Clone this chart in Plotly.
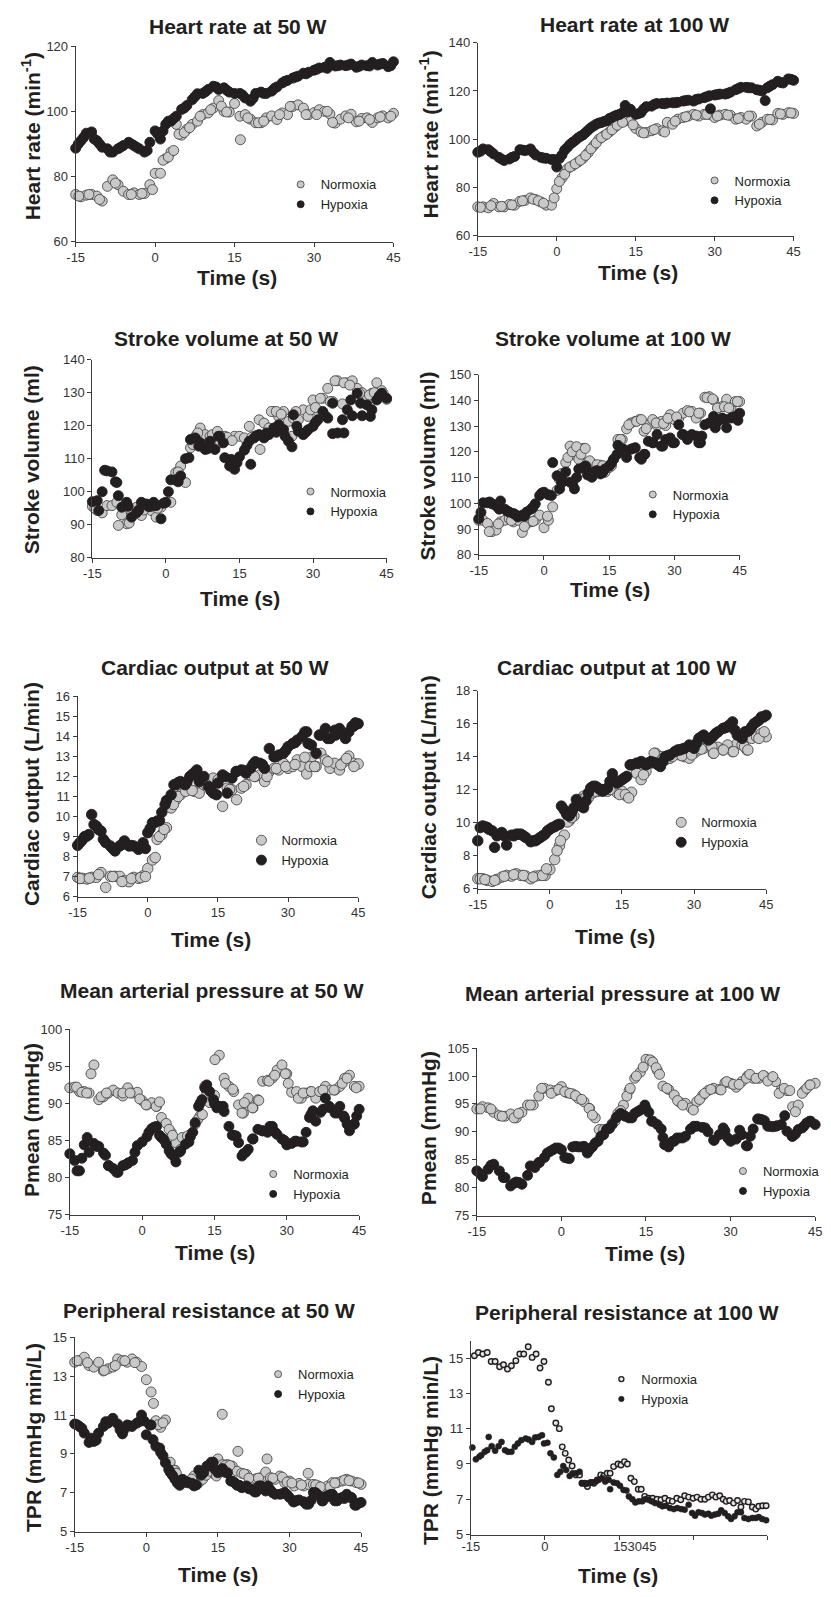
import plotly.graph_objects as go

W, H = 831, 1597
time_s = list(range(-15, 46))

# ---------------- Heart rate 50 W ----------------
hr50_norm = [74.5, 73.8, 74.3, 74.5, 74.0, 72.5, 77.0, 79.0, 77.5, 75.5,
             74.5, 75.0, 74.5, 74.8, 77.5, 81.0, 81.0, 85.5, 87.5, 96.0,
             92.7, 94.5, 96.0, 97.0, 99.0, 99.5, 101.0, 103.3, 100.0, 99.8,
             102.4, 98.5, 99.0, 97.6, 96.5, 96.5, 98.0, 98.6, 97.5, 99.5,
             99.0, 101.5, 102.0, 101.0, 99.0, 99.6, 100.5, 100.0, 99.2, 96.4,
             97.6, 98.6, 99.1, 96.8, 97.8, 98.0, 96.6, 98.0, 98.6, 98.0, 99.4]
hr50_norm_ext_t = [-14.4, -12.5, -10.5, -7.5, -4.5, -2.5, -0.5, 1.5, 2.5, 3.5,
                   4.5, 5.5, 6.5, 8.5, 10.5, 12.5, 13.5, 16.1, 17.5, 19.5,
                   20.5, 23.5, 25.5, 28.5, 30.5, 32.5, 33.5, 36.5, 38.5, 40.5, 42.5, 44.5]
hr50_norm_ext = [74, 74.5, 73, 78, 74.5, 74.8, 76, 85, 86, 88,
                 93, 93.5, 95, 98.5, 100.5, 101.6, 99.8, 91.3, 98, 96.5,
                 97, 99, 101.5, 99, 99, 100, 96.6, 98, 97, 97.5, 98.3, 98.5]
hr50_hyp = [88.7, 91.0, 93.3, 93.7, 91.0, 89.0, 88.5, 87.5, 88.5, 89.5,
            90.5, 89.5, 88.5, 87.5, 90.5, 94.0, 91.5, 96.0, 97.0, 98.5,
            100.6, 101.8, 103.6, 105.4, 105.5, 106.7, 107.7, 106.7, 107.2, 105.9,
            105.5, 105.5, 104.1, 103.1, 105.5, 105.9, 105.5, 106.2, 107.5, 108.7,
            109.5, 110.2, 110.8, 111.7, 112.0, 112.6, 113.3, 113.5, 115.0, 113.9,
            114.2, 114.0, 114.5, 113.5, 114.2, 114.0, 115.0, 114.2, 114.7, 113.7, 115.2]
hr50_hyp_ext_t = [-14.5, -13.5, -11.5, -10.5, -8.5, -6.5, -4.5, -3.5, -1.5, 0.5,
                  1.5, 2.5, 3.5, 5.5, 7.5, 9.5, 11.5, 13.5, 16.5, 18.5,
                  20.5, 22.5, 24.5, 26.5, 28.5, 30.5, 32.5, 34.5, 36.5, 38.5, 40.5, 42.5, 44.5]
hr50_hyp_ext = [90, 92, 91.5, 90, 87.5, 89, 90, 89, 88, 93,
                94, 97, 97.8, 101, 104.5, 106, 107.5, 106.5, 105, 104,
                105.5, 107, 109.2, 110.5, 111.5, 112.9, 113.2, 114, 114.2, 113.8, 113.9, 114.5, 114]

# ---------------- Heart rate 100 W ----------------
hr100_norm = [72.0, 72.0, 71.6, 73.4, 72.0, 72.0, 73.0, 72.7, 74.3, 74.7,
              75.7, 75.0, 74.0, 72.7, 72.7, 79.5, 84.0, 87.7, 89.0, 90.5,
              92.1, 94.5, 97.3, 100.0, 101.5, 103.0, 105.0, 106.9, 107.6, 107.6,
              104.5, 103.0, 102.8, 103.5, 104.4, 103.5, 107.0, 106.2, 108.3, 109.0,
              109.6, 110.3, 109.6, 110.3, 110.3, 109.0, 110.0, 110.3, 109.9, 108.3,
              109.0, 108.3, 109.6, 105.5, 107.0, 108.3, 108.0, 110.7, 110.3, 111.0, 110.7]
hr100_norm_ext_t = [-14.5, -12.5, -10.5, -8.5, -6.5, -4.5, -3.5, -2.5, -0.5, 0.5,
                    1.5, 2.5, 3.5, 4.5, 5.5, 6.5, 7.5, 8.5, 9.5, 10.5,
                    11.5, 12.5, 14.5, 16.5, 18.5, 20.5, 22.5, 24.5, 26.5, 28.5,
                    30.5, 32.5, 34.5, 36.5, 38.5, 40.5, 42.5, 44.5]
hr100_norm_ext = [71.8, 72.5, 72.2, 72.8, 74.5, 75.2, 74.5, 73.5, 75.7, 82.5,
                  85.5, 88.5, 89.8, 91.3, 93.3, 96, 98.5, 100.7, 102.1, 103.9,
                  105.8, 107, 106, 102.6, 104, 103, 107.5, 109.3, 110, 110.3,
                  109.6, 110, 108.6, 109.6, 106.2, 108.2, 110.5, 110.9]
hr100_hyp = [94.6, 96.0, 95.7, 93.9, 92.5, 91.2, 91.8, 92.9, 95.7, 95.3,
             96.0, 93.5, 92.5, 92.1, 91.6, 88.5, 93.5, 96.6, 98.7, 100.5,
             101.8, 103.8, 105.5, 106.7, 107.4, 108.6, 109.6, 110.3, 114.0, 112.4,
             110.3, 111.0, 113.5, 113.7, 114.8, 114.8, 115.0, 115.1, 115.3, 115.8,
             116.2, 115.8, 116.7, 117.2, 118.0, 118.3, 118.7, 118.7, 119.5, 120.5,
             121.5, 121.5, 121.3, 120.5, 120.0, 121.3, 122.6, 124.0, 123.3, 125.0, 124.4]
hr100_hyp_ext_t = [-14.5, -12.5, -10.5, -8.5, -6.5, -4.5, -2.5, -0.5, 0.5, 1.5,
                   2.5, 3.5, 4.5, 5.5, 6.5, 7.5, 8.5, 9.5, 10.5, 11.5,
                   12.5, 13.5, 15.5, 16.5, 18.5, 20.5, 22.5, 24.5, 26.5, 28.5,
                   29.2, 30.5, 32.5, 34.5, 36.5, 38.5, 39.6, 40.5, 42.5, 44.5]
hr100_hyp_ext = [95, 94.8, 91.8, 92.5, 95.5, 94.5, 92.2, 91.6, 92, 95.5,
                 97.8, 99.5, 101.2, 102.8, 104.8, 106.2, 106.9, 107.6, 109, 110,
                 111, 111.3, 110.6, 112.5, 114.4, 114.7, 115.1, 116, 116.5, 117.6,
                 112.6, 118.5, 119, 121, 121.3, 120.3, 116.0, 122, 123.5, 124.8]

# ---------------- Stroke volume 50 W ----------------
sv50_norm = [95.6, 94.3, 93.6, 95.8, 95.8, 96.8, 93.0, 90.3, 94.3, 95.3,
             92.8, 94.8, 94.3, 92.3, 95.3, 96.8, 96.8, 105.8, 107.8, 102.8,
             113.3, 116.8, 119.3, 117.3, 116.8, 117.3, 114.8, 116.8, 115.8, 116.8,
             116.8, 116.3, 119.8, 116.8, 121.8, 120.8, 119.3, 124.3, 122.8, 124.3,
             121.3, 122.3, 121.8, 124.8, 122.8, 127.8, 124.3, 128.3, 131.3, 127.3,
             133.6, 126.6, 133.0, 133.6, 131.3, 130.0, 128.3, 129.8, 133.0, 130.6, 128.0]
sv50_norm_ext_t = [-14.5, -9.7, -7.5, -4.5, -1.7, 2.5, 5.5, 6.5, 9.5, 10.5,
                   12.5, 13.5, 17.5, 19.2, 21.5, 22.5, 23.5, 25.7, 26.5, 29.5,
                   30.5, 31.5, 33.5, 34.5, 36.3, 37.5, 39.5, 41.5, 42.5, 44.3]
sv50_norm_ext = [95, 89.8, 90.5, 94.5, 95, 106, 114.3, 117.8, 117.3, 118.3,
                 116.5, 115.5, 116.5, 112.8, 124.3, 124.3, 123.5, 116.8, 124.3, 124.8,
                 125.5, 128.3, 127.3, 133.6, 133, 132.3, 129.8, 129.3, 130, 129.8]
sv50_hyp = [97.0, 97.3, 100.0, 106.3, 106.0, 102.8, 95.3, 96.8, 92.3, 93.6,
            96.8, 96.3, 95.6, 95.8, 91.8, 96.8, 103.6, 103.6, 104.8, 110.0,
            115.8, 116.3, 114.8, 112.8, 115.3, 112.8, 116.8, 110.3, 107.8, 106.8,
            110.6, 112.6, 115.3, 116.3, 117.3, 116.3, 117.3, 119.3, 120.3, 118.8,
            115.3, 123.3, 118.3, 117.3, 118.8, 119.8, 121.8, 124.3, 122.3, 126.8,
            117.8, 121.8, 124.8, 123.0, 129.8, 123.0, 126.3, 124.8, 127.8, 129.8, 128.3]
sv50_hyp_ext_t = [-13.7, -12.5, -10.3, -9.7, -7.7, -5.5, -3.5, -2.5, -0.5, 0.5,
                  2.5, 4.7, 6.7, 8.5, 10.7, 11.7, 13.3, 14.5, 16.5, 17.3,
                  18.5, 20.5, 22.5, 24.3, 25.7, 26.7, 28.5, 30.5, 32.5, 34.0,
                  36.3, 37.7, 39.7, 41.7, 43.5]
sv50_hyp_ext = [94.3, 106.5, 103, 98.8, 95.6, 94.5, 95.5, 96.8, 96.5, 100,
                103, 110.3, 113.8, 113, 116.8, 114.8, 109.8, 108.8, 114, 108.3,
                117, 117.8, 118, 116.8, 113.6, 119.8, 118, 121, 123, 117.6,
                117.8, 127.8, 126.8, 122.8, 129]

# ---------------- Stroke volume 100 W ----------------
sv100_norm = [93.4, 93.4, 92.2, 89.0, 89.6, 92.8, 93.4, 94.0, 92.8, 93.4,
              88.7, 92.2, 92.8, 93.4, 95.4, 90.5, 93.4, 98.6, 105.0, 111.5,
              115.8, 122.2, 119.0, 117.1, 121.3, 115.8, 115.5, 114.5, 114.8, 112.0,
              113.9, 117.1, 124.8, 124.8, 128.9, 131.2, 131.8, 132.5, 128.0, 130.5,
              132.5, 130.2, 131.8, 130.2, 134.4, 132.5, 133.1, 135.0, 136.0, 135.7,
              133.1, 135.0, 141.2, 141.4, 140.1, 137.0, 137.6, 140.4, 137.0, 139.5, 139.5]
sv100_norm_ext_t = [-12.6, -10.5, -7.5, -4.5, -2.5, 0.8, 3.5, 5.5, 6.5, 7.5,
                    8.5, 9.5, 10.5, 12.2, 13.5, 15.5, 17.6, 19.5, 21.3, 22.4,
                    23.5, 25.8, 27.5, 28.5, 30.5, 33.5, 35.6, 37.5, 38.8, 39.9,
                    41.5, 42.5, 44.5]
sv100_norm_ext = [89, 92, 93.3, 91, 93, 95, 109.4, 117.8, 120, 122,
                  119, 121.3, 116.5, 115, 114.6, 114.5, 124.8, 130.5, 131.8, 132.5,
                  129, 131.2, 131, 133, 133.5, 135.5, 135, 141, 140.5, 137,
                  137.5, 137, 139.5]
sv100_hyp = [94.0, 100.2, 100.2, 99.8, 99.0, 100.9, 97.7, 96.6, 96.0, 94.7,
             95.4, 96.6, 97.7, 99.8, 103.0, 104.3, 103.3, 115.8, 110.7, 108.2,
             112.2, 108.2, 105.6, 113.3, 113.9, 111.0, 110.1, 112.6, 111.4, 113.3,
             114.5, 117.1, 122.5, 121.0, 117.8, 121.0, 121.6, 117.8, 119.0, 124.1,
             123.5, 126.7, 122.2, 124.8, 125.4, 123.5, 130.5, 126.7, 124.8, 126.7,
             126.1, 123.5, 130.5, 131.2, 133.7, 131.8, 133.1, 129.3, 133.1, 133.7, 135.0]
sv100_hyp_ext_t = [-14.5, -12.5, -10.3, -8.5, -6.5, -4.5, -2.5, -0.5, 1.7, 3.6,
                   4.5, 6.6, 7.5, 9.6, 10.5, 12.3, 13.5, 15.5, 16.8, 18.3,
                   20.5, 22.4, 23.2, 25.1, 27.3, 29.6, 31.8, 32.6, 35.6, 36.3,
                   38.5, 39.4, 41.6, 43.5, 44.6]
sv100_hyp_ext = [96.5, 100.5, 97.7, 97, 95.5, 95, 98.5, 104, 103, 105.6,
                 108.5, 107.5, 110, 114.5, 112, 112.6, 112, 115.5, 119, 121,
                 121.3, 117.1, 119, 123.5, 122.2, 123.5, 126.7, 126.1, 123.5, 126.1,
                 131.5, 129.3, 132.5, 133.4, 132.2]

# ---------------- Cardiac output 50 W ----------------
co50_norm = [6.96, 6.91, 6.88, 6.96, 6.96, 7.20, 6.46, 7.01, 7.01, 7.01,
             6.79, 6.74, 6.96, 6.91, 7.04, 7.40, 7.83, 8.86, 9.10, 9.44,
             10.43, 10.84, 11.09, 11.50, 11.34, 11.26, 11.17, 11.59, 11.67, 11.92,
             11.75, 10.51, 11.42, 11.34, 10.84, 11.42, 11.59, 12.08, 12.00, 12.08,
             11.75, 12.25, 12.41, 12.33, 12.66, 12.41, 12.50, 12.83, 12.50, 12.13,
             12.96, 12.50, 13.16, 12.83, 12.41, 12.66, 12.33, 12.74, 13.02, 12.66, 12.63]
co50_norm_ext_t = [-14.5, -12.5, -10.5, -7.5, -5.5, -3.5, -1.5, -0.5, 1.6, 2.5,
                   3.5, 5.5, 6.5, 8.1, 9.5, 12.5, 15.1, 17.5, 20.5, 22.8,
                   25.5, 27.5, 29.5, 31.5, 33.6, 34.7, 35.7, 38.5, 41.3, 42.5, 44.1]
co50_norm_ext = [6.9, 6.92, 7.1, 7.0, 6.75, 6.9, 6.95, 7.0, 7.95, 9.0,
                 9.36, 10.6, 11.0, 11.26, 11.3, 11.6, 11.85, 11.35, 11.5, 12.0,
                 12.0, 12.4, 12.5, 12.6, 12.96, 12.5, 12.5, 12.74, 12.58, 12.9, 12.5]
co50_hyp = [8.56, 8.83, 9.02, 10.10, 9.52, 9.27, 8.70, 8.53, 8.28, 8.53,
            8.78, 8.53, 8.53, 8.36, 8.69, 9.19, 9.69, 9.77, 10.21, 10.80,
            11.09, 11.59, 11.75, 11.59, 12.00, 12.20, 11.75, 12.00, 11.50, 11.17,
            11.67, 12.08, 11.17, 11.92, 12.25, 12.33, 12.17, 12.41, 12.74, 12.66,
            12.41, 13.40, 12.99, 13.07, 13.16, 13.49, 13.65, 13.82, 14.00, 14.23,
            13.57, 13.16, 14.07, 14.40, 13.90, 14.31, 14.40, 14.07, 14.23, 14.51, 14.64]
co50_hyp_ext_t = [-14.5, -13.5, -12.6, -11.5, -10.5, -9.5, -7.5, -5.5, -3.5, -1.5,
                  -0.5, 0.5, 1.5, 2.5, 3.7, 5.6, 6.5, 8.4, 9.5, 10.5,
                  13.5, 14.7, 16.5, 18.9, 20.5, 22.5, 24.5, 27.3, 29.5, 31.5,
                  33.6, 34.3, 36.7, 38.5, 40.2, 42.3, 43.7, 44.4]
co50_hyp_ext = [8.7, 9.0, 9.1, 9.6, 9.35, 8.86, 8.4, 8.6, 8.55, 8.5,
                8.4, 9.4, 9.7, 9.8, 10.6, 11.59, 11.7, 11.75, 12.1, 12.33,
                11.3, 11.09, 12.0, 12.25, 12.3, 12.6, 12.6, 12.99, 13.3, 13.7,
                14.23, 13.65, 14.07, 13.9, 14.07, 13.9, 14.51, 14.68]

# ---------------- Cardiac output 100 W ----------------
co100_norm = [6.60, 6.60, 6.50, 6.44, 6.56, 6.70, 6.80, 6.76, 6.90, 6.80,
              6.76, 6.60, 6.76, 6.80, 6.80, 7.16, 7.76, 8.60, 9.24, 10.10,
              10.40, 11.20, 11.60, 11.50, 11.80, 11.90, 12.00, 11.90, 12.20, 11.80,
              11.90, 11.60, 11.84, 13.00, 12.60, 13.10, 13.60, 14.20, 14.00, 13.80,
              13.90, 14.20, 14.10, 14.00, 13.90, 14.20, 14.40, 14.50, 14.70, 14.20,
              14.56, 14.40, 14.70, 14.30, 14.80, 14.70, 14.40, 15.10, 15.20, 15.40, 15.20]
co100_norm_ext_t = [-14.5, -13.5, -11.5, -9.5, -7.5, -5.5, -3.5, -1.5, -0.7, 1.5,
                    2.2, 3.7, 4.5, 5.8, 6.5, 7.5, 9.5, 10.5, 12.5, 14.5,
                    15.7, 16.4, 19.5, 21.7, 23.5, 25.5, 27.5, 29.5, 31.5, 33.7,
                    34.1, 36.1, 38.2, 40.5, 41.2, 43.5, 44.6]
co100_norm_ext = [6.6, 6.55, 6.5, 6.75, 6.85, 6.8, 6.7, 6.8, 7.2, 8.3,
                  8.9, 10.04, 10.3, 11.2, 11.4, 11.55, 11.9, 12.0, 12.0, 11.7,
                  11.7, 11.5, 12.9, 14.2, 13.85, 14.0, 14.05, 14.1, 14.45, 14.6,
                  14.2, 14.4, 14.3, 14.6, 14.4, 15.1, 15.5]
co100_hyp = [8.90, 9.80, 9.70, 9.50, 9.20, 9.40, 8.64, 9.24, 9.30, 9.30,
             9.10, 8.84, 8.90, 9.10, 9.30, 9.60, 9.75, 9.90, 10.76, 10.40,
             10.90, 11.10, 10.90, 11.80, 12.20, 12.10, 11.90, 12.10, 12.96, 12.40,
             12.60, 12.80, 13.50, 13.60, 13.70, 13.50, 13.70, 13.60, 13.40, 14.00,
             14.10, 14.30, 14.40, 14.50, 14.70, 14.50, 15.10, 15.30, 15.00, 15.24,
             15.50, 15.70, 15.80, 16.10, 15.30, 15.10, 15.50, 15.80, 16.10, 16.40, 16.50]
co100_hyp_ext_t = [-14.5, -13.5, -12.7, -11.5, -10.5, -9.5, -7.5, -6.5, -5.5, -3.5,
                   -2.5, -1.5, -0.5, 0.5, 1.5, 2.4, 3.5, 4.5, 5.5, 6.5,
                   7.5, 8.5, 9.5, 10.5, 11.5, 12.5, 14.5, 15.5, 16.7, 18.5,
                   20.3, 21.5, 22.5, 23.5, 24.5, 26.6, 27.5, 29.5, 30.5, 31.5,
                   33.5, 34.5, 36.5, 37.3, 38.5, 40.6, 41.5, 42.5, 43.5, 44.5]
co100_hyp_ext = [9.7, 9.75, 9.6, 8.5, 9.3, 9.2, 9.2, 9.3, 9.2, 8.9,
                 9.0, 9.2, 9.5, 9.7, 9.85, 11.0, 10.5, 10.6, 11.4, 11.0,
                 11.3, 12.1, 12.2, 12.0, 12.0, 12.5, 12.5, 12.7, 13.5, 13.6,
                 13.6, 13.65, 13.5, 13.7, 14.05, 14.4, 14.45, 14.6, 14.8, 15.2,
                 15.1, 15.4, 15.75, 15.9, 15.6, 15.5, 15.6, 16.0, 16.2, 16.4]

# ---------------- Mean arterial pressure 50 W ----------------
map50_norm = [92.1, 92.2, 91.6, 91.6, 91.4, 95.2, 90.5, 90.9, 91.4, 91.8,
              91.4, 91.0, 92.1, 91.4, 91.5, 90.4, 89.8, 90.1, 89.6, 88.1,
              87.3, 86.1, 84.7, 83.8, 85.4, 85.8, 87.2, 88.3, 92.3, 90.1,
              91.1, 96.5, 93.4, 92.3, 91.6, 89.8, 88.7, 90.7, 89.4, 90.5,
              93.0, 93.1, 93.4, 94.5, 95.2, 94.0, 91.5, 91.6, 90.7, 91.4,
              91.6, 90.7, 91.6, 92.3, 91.8, 91.8, 92.3, 93.4, 93.8, 92.3, 92.3]
map50_norm_ext_t = [-13.6, -12.5, -11.5, -10.6, -8.5, -7.4, -4.0, -2.5, -0.5, 0.8,
                    2.9, 3.6, 5.6, 6.3, 8.3, 9.4, 11.5, 12.5, 13.4, 15.1,
                    17.3, 18.8, 20.7, 21.2, 22.9, 24.2, 26.3, 27.5, 29.7, 30.3,
                    32.4, 33.4, 35.1, 36.8, 37.5, 39.8, 41.5, 42.5, 44.4]
map50_norm_ext = [92.2, 91.5, 91.4, 94.0, 90.9, 91.4, 91.4, 91.4, 90.6, 89.8,
                  89.6, 90.2, 86.5, 85.7, 85.4, 85.6, 87.8, 88.5, 91.4, 95.9,
                  92.7, 91.9, 88.7, 90.1, 89.4, 90.4, 93, 93.8, 94, 92.7,
                  90.7, 91.4, 91.6, 91.6, 91.8, 91.8, 92.7, 93.4, 92.1]
map50_hyp = [83.2, 82.3, 80.9, 84.4, 83.4, 84.6, 84.2, 83.3, 81.6, 81.2,
             80.7, 81.6, 81.9, 82.3, 84.3, 84.8, 85.5, 86.6, 86.9, 85.4,
             84.5, 83.2, 82.1, 83.6, 84.5, 85.5, 87.4, 90.0, 92.1, 91.6,
             90.0, 89.6, 88.9, 86.9, 85.7, 84.7, 83.2, 83.8, 85.2, 86.5,
             86.3, 86.1, 86.9, 85.8, 85.2, 84.4, 84.6, 84.9, 84.8, 86.1,
             88.5, 87.6, 88.8, 90.7, 89.4, 88.7, 89.6, 88.0, 86.3, 87.2, 89.2]
map50_hyp_ext_t = [-13.5, -12.5, -11.4, -9.4, -7.6, -6.9, -5.3, -3.5, -2.8, -1.5,
                   1.4, 2.5, 3.6, 4.5, 5.6, 6.5, 7.7, 9.7, 10.5, 11.7,
                   12.4, 13.4, 14.8, 15.5, 16.8, 18.7, 19.5, 20.7, 21.5, 22.9,
                   24.9, 26.5, 27.6, 29.5, 31.7, 33.4, 34.7, 35.4, 37.5, 38.8,
                   40.5, 41.8, 42.5, 43.9, 44.5]
map50_hyp_ext = [80.9, 82.6, 85.4, 84.2, 83.0, 81.6, 80.7, 81.7, 82.0, 83.4,
                 86.1, 86.8, 85.7, 85.1, 83.6, 82.9, 83.4, 84.8, 86.1, 89.6,
                 90.5, 92.5, 90.5, 89.4, 89.6, 85.7, 85.6, 82.9, 83.4, 85.2,
                 86.3, 86.9, 86.1, 85.0, 84.9, 84.8, 88.1, 89.0, 89.2, 89.6,
                 88.7, 88.3, 87.2, 87.2, 88.3]

# ---------------- Mean arterial pressure 100 W ----------------
map100_norm = [94.1, 94.5, 94.3, 93.5, 92.9, 92.8, 93.2, 92.5, 93.5, 94.8,
               94.8, 96.4, 97.8, 97.5, 97.4, 98.1, 97.0, 96.8, 96.0, 95.4,
               94.2, 92.5, 90.4, 90.5, 91.5, 93.3, 94.8, 97.4, 99.6, 100.7,
               103.0, 102.7, 101.0, 98.2, 97.6, 96.6, 95.3, 95.1, 94.3, 95.4,
               96.5, 97.4, 97.8, 97.6, 98.8, 98.7, 98.0, 99.0, 100.0, 99.6,
               99.6, 100.0, 99.5, 99.0, 97.5, 97.4, 94.5, 94.8, 97.3, 98.4, 98.7]
map100_norm_ext_t = [-14.4, -12.5, -10.5, -8.4, -7.6, -5.5, -3.5, -1.8, -0.5, 0.6,
                     1.5, 2.5, 3.6, 4.9, 5.5, 6.7, 7.5, 8.5, 9.5, 10.5,
                     11.6, 12.2, 13.3, 14.5, 15.7, 16.2, 16.8, 17.4, 18.7, 20.6,
                     21.5, 23.4, 24.5, 25.4, 26.5, 28.3, 29.3, 30.5, 31.5, 32.8,
                     33.4, 34.5, 35.8, 36.6, 37.5, 38.6, 39.5, 40.5, 41.5, 42.7,
                     43.5, 44.1]
map100_norm_ext = [94.1, 94.1, 92.8, 92.5, 93.3, 94.8, 97.8, 96.9, 97.6, 97.2,
                   96.9, 96.5, 95.8, 94.2, 93.0, 90.4, 90.4, 90.7, 91.9, 93.8,
                   96.4, 97.8, 100.0, 101.6, 102.9, 102.5, 101.5, 100.3, 97.8, 95.6,
                   94.8, 93.9, 95.8, 96.9, 97.6, 97.5, 99.0, 98.5, 98.5, 99.6,
                   100.3, 99.6, 100.1, 99.1, 99.9, 96.9, 97.8, 97.4, 93.6, 96.9,
                   97.8, 98.4]
map100_hyp = [83.0, 82.0, 83.3, 84.2, 83.0, 81.8, 80.3, 81.0, 80.6, 82.2,
              83.8, 84.5, 85.4, 86.5, 87.1, 86.8, 85.3, 87.3, 87.3, 87.4,
              86.8, 88.0, 89.2, 90.4, 91.3, 92.8, 93.0, 92.5, 93.3, 93.9,
              94.2, 91.9, 91.3, 89.0, 87.3, 88.3, 88.9, 89.2, 90.5, 91.0,
              90.8, 90.0, 88.5, 89.5, 90.2, 88.3, 88.7, 89.5, 87.5, 90.5,
              92.3, 92.0, 91.0, 91.0, 91.3, 90.1, 89.2, 90.4, 91.0, 91.9, 91.3]
map100_hyp_ext_t = [-14.4, -12.5, -10.3, -8.4, -7.5, -5.5, -4.7, -3.9, -2.5, -1.5,
                    -0.5, 0.6, 1.4, 2.5, 3.5, 4.6, 5.5, 6.5, 7.5, 8.5,
                    9.7, 10.5, 11.3, 12.5, 13.5, 14.8, 15.5, 16.2, 17.7, 18.3,
                    19.7, 20.5, 21.5, 22.9, 23.5, 25.5, 27.1, 28.7, 29.5, 31.6,
                    32.8, 33.5, 34.8, 35.5, 36.6, 37.5, 38.3, 39.6, 40.9, 41.5,
                    42.7, 43.5, 44.2]
map100_hyp_ext = [82.5, 84.0, 81.8, 80.8, 80.9, 83.9, 83.6, 84.5, 86.2, 86.8,
                  87.1, 85.4, 85.2, 87.4, 87.3, 86.2, 87.3, 88.3, 89.5, 90.6,
                  92.5, 93.3, 92.8, 92.5, 93.6, 94.8, 93.5, 91.9, 90.5, 87.7,
                  88.3, 88.9, 88.9, 90.5, 91.0, 90.7, 88.5, 90.7, 88.9, 90.3,
                  87.5, 89.2, 92.3, 92.2, 91.0, 90.9, 91.1, 92.9, 89.2, 89.6,
                  90.7, 91.6, 91.9]

# ---------------- Peripheral resistance 50 W ----------------
tpr50_norm = [13.72, 13.80, 13.98, 13.55, 13.47, 13.72, 13.27, 13.38, 13.47, 13.89,
              13.81, 13.72, 13.89, 13.72, 13.50, 12.82, 12.19, 10.71, 10.37, 10.75,
              8.57, 8.16, 7.69, 7.52, 7.60, 7.86, 7.52, 7.89, 8.20, 8.00,
              8.74, 8.45, 8.45, 8.37, 8.11, 8.00, 7.94, 7.69, 7.72, 7.77,
              8.06, 7.77, 7.69, 7.86, 7.52, 7.60, 7.35, 7.48, 7.35, 7.43,
              7.43, 7.35, 7.18, 7.35, 7.52, 7.52, 7.60, 7.69, 7.60, 7.52, 7.43]
tpr50_norm_ext_t = [-14.5, -12.3, -8.8, -6.5, -4.5, -2.4, 1.5, 2.5, 3.5, 5.8,
                    6.3, 8.2, 9.5, 11.8, 12.5, 13.5, 14.7, 15.9, 16.5, 17.5,
                    19.2, 20.5, 21.5, 23.5, 25.3, 26.5, 28.5, 29.5, 30.5, 32.5,
                    33.9, 35.5, 36.5, 38.5, 39.5, 41.5, 42.5, 44.5]
tpr50_norm_ext = [13.8, 13.7, 13.3, 13.55, 13.8, 13.7, 11.6, 10.5, 10.6, 8.16,
                  8.0, 7.52, 7.7, 7.69, 7.9, 8.1, 7.86, 11.04, 8.4, 8.4,
                  9.13, 7.97, 7.75, 7.75, 8.74, 7.75, 7.8, 7.55, 7.5, 7.4,
                  8.0, 7.4, 7.3, 7.3, 7.5, 7.65, 7.62, 7.5]
tpr50_hyp = [10.54, 10.41, 10.07, 9.59, 9.64, 10.07, 10.41, 10.58, 10.83, 10.54,
             10.03, 10.49, 10.41, 10.58, 11.00, 9.98, 10.49, 9.39, 9.08, 8.54,
             8.05, 7.69, 7.38, 7.60, 7.50, 7.35, 8.16, 8.03, 8.37, 8.57,
             8.03, 8.23, 8.03, 7.60, 7.38, 7.26, 7.35, 7.18, 7.04, 7.35,
             7.09, 7.14, 6.92, 6.92, 7.01, 6.75, 6.53, 6.63, 6.53, 6.41,
             7.01, 6.87, 6.58, 6.80, 6.92, 6.58, 6.75, 6.92, 6.75, 6.36, 6.50]
tpr50_hyp_ext_t = [-14.5, -13.5, -11.6, -10.5, -8.5, -7.5, -5.5, -4.7, -3.5, -1.5,
                   -0.5, 0.7, 1.4, 2.8, 3.5, 4.7, 5.5, 6.5, 7.6, 8.6,
                   9.6, 10.5, 11.5, 12.7, 13.6, 14.4, 15.9, 16.5, 17.7, 18.5,
                   19.5, 20.5, 21.5, 22.7, 23.6, 24.5, 25.5, 26.5, 28.5, 29.5,
                   30.8, 31.5, 33.5, 34.5, 35.5, 36.8, 37.6, 38.5, 39.5, 40.5,
                   41.5, 42.8, 43.7, 44.4]
tpr50_hyp_ext = [10.5, 10.32, 9.81, 9.7, 10.66, 10.7, 10.24, 10.24, 10.45, 10.66,
                 10.7, 10.49, 9.73, 9.3, 8.9, 8.2, 7.89, 7.5, 7.69, 7.55,
                 7.48, 7.4, 7.9, 8.37, 8.57, 8.2, 8.23, 8.05, 7.6, 7.52,
                 7.38, 7.3, 7.2, 7.04, 7.35, 7.2, 7.35, 7.0, 6.95, 6.9,
                 6.53, 6.6, 6.41, 6.6, 7.0, 6.58, 6.8, 6.9, 6.58, 6.7,
                 6.7, 6.75, 6.36, 6.46]

# ---------------- Peripheral resistance 100 W ----------------
tpr100_norm_t = [-14.3, -13.5, -12.6, -11.7, -10.9, -10.1, -9.2, -8.4, -7.6, -6.8,
                 -5.9, -5.1, -4.3, -3.4, -2.6, -1.8, -1.0, -0.2, 0.7, 1.3,
                 2.2, 2.9, 3.5, 4.1, 4.8, 5.5, 6.3, 7.0, 7.5, 8.1,
                 8.6, 9.3, 9.9, 10.6, 11.3, 11.9, 12.6, 13.2, 13.9, 14.8,
                 15.4, 16.1, 16.7, 17.4, 18.1, 18.9, 19.5, 20.2, 21.0, 21.8,
                 22.7, 23.5, 24.3, 25.1, 25.8, 26.7, 27.5, 28.3, 29.1, 30.0,
                 30.8, 31.6, 32.4, 33.1, 33.9, 34.6, 35.4, 36.1, 36.7, 37.4,
                 38.2, 39.0, 39.7, 40.4, 41.2, 42.0, 42.7, 43.3, 44.1, 44.8]
tpr100_norm = [15.13, 15.32, 15.23, 15.32, 14.81, 14.81, 14.51, 14.62, 14.38, 14.57,
               14.85, 15.23, 15.23, 15.64, 15.04, 15.23, 14.44, 14.81, 13.63, 12.13,
               11.32, 11.0, 9.97, 9.6, 9.22, 8.88, 8.38, 8.38, 7.91, 7.91,
               7.72, 7.95, 7.91, 8.1, 8.38, 8.32, 8.47, 8.47, 8.85, 9.0,
               8.94, 9.13, 9.0, 8.19, 8.0, 7.57, 7.57, 7.16, 7.06, 7.06,
               7.0, 6.97, 7.06, 6.93, 6.88, 7.06, 6.97, 7.2, 7.12, 7.06,
               7.12, 7.0, 7.0, 7.12, 7.25, 7.12, 7.2, 7.0, 6.88, 6.93,
               6.78, 6.93, 6.56, 6.88, 6.85, 6.56, 6.44, 6.6, 6.63, 6.63]
tpr100_hyp_t = [-14.7, -14.0, -13.3, -12.9, -12.2, -11.7, -11.4, -10.8, -10.1, -9.4,
                -8.8, -8.1, -7.5, -6.8, -6.1, -5.5, -4.8, -3.9, -3.3, -2.6,
                -2.0, -1.3, -0.6, -0.2, 0.5, 1.1, 1.8, 2.5, 3.1, 3.7,
                4.3, 5.0, 5.6, 6.3, 7.0, 7.5, 8.3, 8.9, 9.6, 10.3,
                10.9, 11.6, 12.2, 12.9, 13.2, 13.9, 14.6, 15.2, 15.9, 16.5,
                17.0, 17.7, 18.3, 19.0, 19.7, 20.3, 21.0, 21.6, 22.3, 23.2,
                23.8, 24.5, 25.3, 26.1, 26.8, 27.6, 28.3, 29.1, 29.8, 30.4,
                31.1, 31.8, 32.4, 33.1, 33.7, 34.4, 35.1, 35.7, 36.4, 37.1,
                37.7, 38.4, 39.0, 39.7, 40.4, 41.2, 42.0, 42.7, 43.3, 44.0, 44.8]
tpr100_hyp = [9.93, 9.26, 9.41, 9.5, 9.69, 9.78, 10.53, 10.01, 9.75, 10.01,
              10.25, 9.78, 9.69, 9.69, 9.97, 10.16, 10.35, 10.44, 10.38, 10.25,
              10.5, 10.53, 10.63, 10.16, 10.2, 9.6, 9.37, 8.38, 8.56, 8.88,
              8.66, 8.32, 8.47, 8.47, 8.56, 7.91, 7.87, 7.91, 7.95, 8.0,
              8.1, 8.19, 8.0, 8.1, 7.57, 7.95, 7.91, 7.76, 7.53, 7.5,
              7.16, 7.0, 6.82, 6.88, 6.88, 7.0, 6.97, 6.88, 6.78, 6.69,
              6.6, 6.63, 6.5, 6.44, 6.5, 6.44, 6.41, 6.69, 6.22, 6.07,
              6.26, 6.22, 6.13, 6.18, 6.07, 6.13, 6.18, 6.37, 6.22, 6.03,
              5.88, 6.03, 6.26, 6.26, 5.94, 5.88, 5.94, 5.94, 5.99, 5.88, 5.81]

x_tickvals = [-15, 0, 15, 30, 45]
x_ticktext = ["-15", "0", "15", "30", "45"]
# last panel: labels only at -15, 0 and a merged "153045" label; tick marks at every 15 s
tpr100_label_vals = [-15, 0, 18.2]
tpr100_label_text = ["-15", "0", "153045"]
series_names = ["Normoxia", "Hypoxia"]


def with_ext(vals, ext_t, ext_v):
    assert len(vals) == len(time_s), len(vals)
    assert len(ext_t) == len(ext_v), (len(ext_t), len(ext_v))
    return time_s + ext_t, vals + ext_v


panels = [
    dict(title="Heart rate at 50 W", ytitle="Heart rate (min<sup>-1</sup>)",
         norm=with_ext(hr50_norm, hr50_norm_ext_t, hr50_norm_ext),
         hyp=with_ext(hr50_hyp, hr50_hyp_ext_t, hr50_hyp_ext),
         box=(68, 392, 39.5, 237), yr=(60, 120), yt=[60, 80, 100, 120],
         tpos=(233, 20), xtpos=(232, 273), ytpos=(22, 131), leg=(320, 177),
         ms=10, lms=7, small=False),
    dict(title="Heart rate at 100 W", ytitle="Heart rate (min<sup>-1</sup>)",
         norm=with_ext(hr100_norm, hr100_norm_ext_t, hr100_norm_ext),
         hyp=with_ext(hr100_hyp, hr100_hyp_ext_t, hr100_hyp_ext),
         box=(478, 800, 36, 231), yr=(60, 140), yt=[60, 80, 100, 120, 140],
         tpos=(638, 18), xtpos=(641, 268), ytpos=(428, 129), leg=(742, 173),
         ms=10, lms=7, small=False),
    dict(title="Stroke volume at 50 W", ytitle="Stroke volume (ml)",
         norm=with_ext(sv50_norm, sv50_norm_ext_t, sv50_norm_ext),
         hyp=with_ext(sv50_hyp, sv50_hyp_ext_t, sv50_hyp_ext),
         box=(85, 385, 356, 556), yr=(80, 140), yt=[80, 90, 100, 110, 120, 130, 140],
         tpos=(221, 335), xtpos=(236, 597), ytpos=(23, 457), leg=(330, 487),
         ms=10, lms=7, small=False),
    dict(title="Stroke volume at 100 W", ytitle="Stroke volume (ml)",
         norm=with_ext(sv100_norm, sv100_norm_ext_t, sv100_norm_ext),
         hyp=with_ext(sv100_hyp, sv100_hyp_ext_t, sv100_hyp_ext),
         box=(479, 745, 371, 553), yr=(80, 150), yt=[80, 90, 100, 110, 120, 130, 140, 150],
         tpos=(616, 335), xtpos=(613, 588), ytpos=(427, 463), leg=(679, 490),
         ms=10, lms=7, small=False),
    dict(title="Cardiac output at 50 W", ytitle="Cardiac output (L/min)",
         norm=with_ext(co50_norm, co50_norm_ext_t, co50_norm_ext),
         hyp=with_ext(co50_hyp, co50_hyp_ext_t, co50_hyp_ext),
         box=(70, 356, 696, 898), yr=(6, 16), yt=list(range(6, 17)),
         tpos=(210, 667), xtpos=(206, 941), ytpos=(23, 795), leg=(280, 839),
         ms=10.5, lms=10, small=False),
    dict(title="Cardiac output at 100 W", ytitle="Cardiac output (L/min)",
         norm=with_ext(co100_norm, co100_norm_ext_t, co100_norm_ext),
         hyp=with_ext(co100_hyp, co100_hyp_ext_t, co100_hyp_ext),
         box=(478, 772, 690, 890), yr=(6, 18), yt=[6, 8, 10, 12, 14, 16, 18],
         tpos=(619, 667), xtpos=(618, 938), ytpos=(428, 788), leg=(708, 821),
         ms=10.5, lms=10, small=False),
    dict(title="Mean arterial pressure at 50 W", ytitle="Pmean (mmHg)",
         norm=with_ext(map50_norm, map50_norm_ext_t, map50_norm_ext),
         hyp=with_ext(map50_hyp, map50_hyp_ext_t, map50_hyp_ext),
         box=(62, 357, 1032, 1219), yr=(75, 100), yt=[75, 80, 85, 90, 95, 100],
         tpos=(207, 993), xtpos=(210, 1257), ytpos=(23, 1124), leg=(292, 1176),
         ms=10, lms=7, small=False),
    dict(title="Mean arterial pressure at 100 W", ytitle="Pmean (mmHg)",
         norm=with_ext(map100_norm, map100_norm_ext_t, map100_norm_ext),
         hyp=with_ext(map100_hyp, map100_hyp_ext_t, map100_hyp_ext),
         box=(477, 822, 1051, 1220), yr=(75, 105), yt=[75, 80, 85, 90, 95, 100, 105],
         tpos=(626, 996), xtpos=(648, 1258), ytpos=(428, 1132), leg=(771, 1173),
         ms=10, lms=7, small=False),
    dict(title="Peripheral resistance at 50 W", ytitle="TPR (mmHg min/L)",
         norm=with_ext(tpr50_norm, tpr50_norm_ext_t, tpr50_norm_ext),
         hyp=with_ext(tpr50_hyp, tpr50_hyp_ext_t, tpr50_hyp_ext),
         box=(67, 359, 1343, 1539), yr=(5, 15), yt=[5, 7, 9, 11, 13, 15],
         tpos=(204, 1316), xtpos=(213, 1582), ytpos=(25, 1444), leg=(297, 1378),
         ms=10, lms=7, small=False),
    dict(title="Peripheral resistance at 100 W", ytitle="TPR (mmHg min/L)",
         norm=(tpr100_norm_t, tpr100_norm),
         hyp=(tpr100_hyp_t, tpr100_hyp),
         box=(471, 773, 1347, 1542), yr=(5, 15.95), yt=[5, 7, 9, 11, 13, 15],
         tpos=(630, 1318), xtpos=(621, 1583), ytpos=(430, 1457), leg=(647, 1383),
         ms=5.5, lms=5, small=True),
]

assert len(tpr100_norm_t) == len(tpr100_norm)
assert len(tpr100_hyp_t) == len(tpr100_hyp)

FONT = "Arial, 'Liberation Sans', sans-serif"
INK = "#231f20"
AX = "#3c3c3c"
TICKC = "#333333"

fig = go.Figure()
layout = dict(width=W, height=H, margin=dict(l=0, r=0, t=0, b=0, pad=0),
              paper_bgcolor="white", plot_bgcolor="white",
              font=dict(family=FONT, color=INK), showlegend=True)
annotations = []
axis_common = dict(ticklen=4, tickwidth=1, tickcolor=AX, showline=True, linecolor=AX,
                   linewidth=1, showgrid=False, zeroline=False,
                   tickfont=dict(size=13, color=TICKC, family=FONT))

for i, p in enumerate(panels, start=1):
    sfx = "" if i == 1 else str(i)
    xref, yref = "x" + sfx, "y" + sfx
    lkey = "legend" + sfx
    x0, x1, ytop, ybot = p["box"]
    if p["small"]:
        xa = dict(domain=[x0 / W, x1 / W], anchor=yref, range=[-15, 45],
                  tickmode="array", tickvals=tpr100_label_vals, ticktext=tpr100_label_text,
                  ticks="", minor=dict(tickmode="array", tickvals=x_tickvals, ticks="outside",
                                       ticklen=4, tickwidth=1, tickcolor=AX, showgrid=False),
                  **{k: v for k, v in axis_common.items() if k not in ("ticklen", "tickwidth", "tickcolor")})
    else:
        xa = dict(domain=[x0 / W, x1 / W], anchor=yref, range=[-15, 45],
                  tickmode="array", tickvals=x_tickvals, ticktext=x_ticktext,
                  ticks="outside", **axis_common)
    layout["xaxis" + sfx] = xa
    layout["yaxis" + sfx] = dict(
        domain=[1 - ybot / H, 1 - ytop / H], anchor=xref, range=list(p["yr"]),
        tickmode="array", tickvals=p["yt"], ticks="outside", **axis_common)

    if p["small"]:
        nstyle = dict(size=p["ms"], color="#e6e6e6", line=dict(color=INK, width=1.4))
        hstyle = dict(size=p["ms"] + 0.5, color=INK, line=dict(color=INK, width=0.6))
        nleg = dict(size=p["lms"], color="#e6e6e6", line=dict(color=INK, width=1.4))
        hleg = dict(size=p["lms"] + 0.5, color=INK, line=dict(color=INK, width=0.6))
    else:
        nstyle = dict(size=p["ms"], color="#c9c9c9", line=dict(color="#4a4a4a", width=0.9))
        hstyle = dict(size=p["ms"], color=INK, line=dict(color=INK, width=0.9))
        nleg = dict(size=p["lms"], color="#c9c9c9", line=dict(color="#4a4a4a", width=0.9))
        hleg = dict(size=p["lms"], color=INK, line=dict(color=INK, width=0.9))

    nt, nv = p["norm"]
    ht, hv = p["hyp"]
    fig.add_trace(go.Scatter(x=nt, y=nv, mode="markers", marker=nstyle, xaxis=xref, yaxis=yref,
                             cliponaxis=False, showlegend=False, hoverinfo="skip"))
    fig.add_trace(go.Scatter(x=ht, y=hv, mode="markers", marker=hstyle, xaxis=xref, yaxis=yref,
                             cliponaxis=False, showlegend=False, hoverinfo="skip"))
    # legend-only entries (no data points)
    fig.add_trace(go.Scatter(x=[None], y=[None], mode="markers", marker=nleg, name=series_names[0],
                             xaxis=xref, yaxis=yref, legend=lkey, showlegend=True))
    fig.add_trace(go.Scatter(x=[None], y=[None], mode="markers", marker=hleg, name=series_names[1],
                             xaxis=xref, yaxis=yref, legend=lkey, showlegend=True))

    tx, ny = p["leg"]
    layout[lkey] = dict(x=(tx - 43) / W, y=1 - (ny - 13) / H, xanchor="left", yanchor="top",
                        bgcolor="rgba(0,0,0,0)", borderwidth=0, tracegroupgap=0,
                        itemwidth=30, font=dict(size=13, color=INK, family=FONT))

    cx, cy = p["tpos"]
    annotations.append(dict(text="<b>%s</b>" % p["title"], x=cx / W, y=1 - cy / H,
                            xref="paper", yref="paper", xanchor="center", yanchor="middle",
                            showarrow=False, font=dict(size=21, color=INK, family=FONT)))
    cx, cy = p["xtpos"]
    annotations.append(dict(text="<b>Time (s)</b>", x=cx / W, y=1 - cy / H,
                            xref="paper", yref="paper", xanchor="center", yanchor="middle",
                            showarrow=False, font=dict(size=21, color=INK, family=FONT)))
    cx, cy = p["ytpos"]
    annotations.append(dict(text="<b>%s</b>" % p["ytitle"], x=cx / W, y=1 - cy / H,
                            xref="paper", yref="paper", xanchor="center", yanchor="middle",
                            textangle=-90, showarrow=False,
                            font=dict(size=21, color=INK, family=FONT)))

layout["annotations"] = annotations
fig.update_layout(**layout)
fig.write_html("out.html")
